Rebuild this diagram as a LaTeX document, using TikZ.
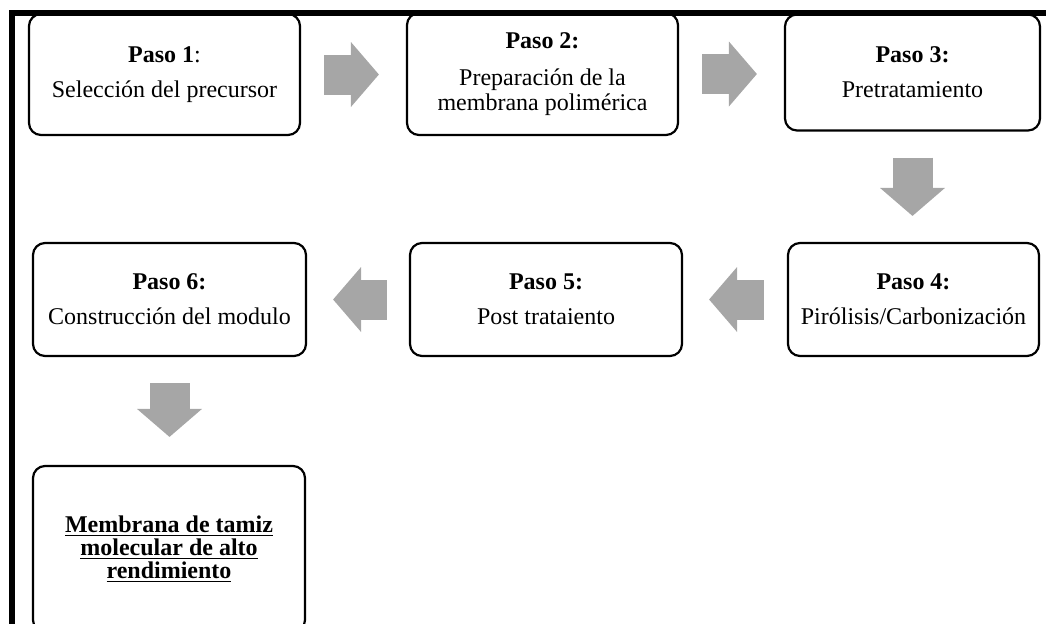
\documentclass[tikz,border=0pt]{standalone}
\usepackage{fontspec}
\setmainfont{Liberation Serif}
\usetikzlibrary{arrows.meta}
\definecolor{grisflecha}{RGB}{166,166,166}

\begin{document}
\begin{tikzpicture}[x=0.5pt,y=-0.5pt,
	paso/.style={draw, line width=1.1pt, rounded corners=6pt, align=center, inner sep=0pt, font=\fontsize{12}{12.5}\selectfont},
	flecha/.style={draw=grisflecha, line width=20pt, -{Triangle[length=14pt,width=32.5pt,line width=0pt]}}]
	\useasboundingbox (0,0) rectangle (1046,623);
	\clip (0,0) rectangle (1046,623);
	\draw[line width=3pt] (11.5,630) -- (11.5,13) -- (1050,13);
	\node[paso, minimum width=135.5pt, minimum height=60.5pt] (p1) at (164.5,74.5) {\textbf{Paso 1}:\\[5pt] Selección del precursor};
	\node[paso, minimum width=135.5pt, minimum height=61pt] (p2) at (542.5,74) {\textbf{Paso 2:}\\[6pt] Preparación de la\\ membrana polimérica};
	\node[paso, minimum width=127.5pt, minimum height=58pt] (p3) at (912.5,72.5) {\textbf{Paso 3:}\\[5pt] Pretratamiento};
	\node[paso, minimum width=125.5pt, minimum height=56.5pt] (p4) at (913.5,299.5) {\textbf{Paso 4:}\\[5pt] Pirólisis/Carbonización};
	\node[paso, minimum width=136pt, minimum height=56.5pt] (p5) at (546,299.5) {\textbf{Paso 5:}\\[5pt] Post trataiento};
	\node[paso, minimum width=136.5pt, minimum height=56.5pt] (p6) at (169.5,299.5) {\textbf{Paso 6:}\\[5pt] Construcción del modulo};
	\node[paso, minimum width=136pt, minimum height=83pt, font=\bfseries\fontsize{12}{10}\selectfont] (res) at (169,549) {\underline{Membrana de tamiz}\\ \underline{molecular de alto}\\ \underline{rendimiento}};
	\draw[flecha, shorten <=11.5pt, shorten >=13.5pt] (p1.east) -- (p1.east -| p2.west);
	\draw[flecha, shorten <=11.5pt, shorten >=13.5pt] (p2.east) -- (p2.east -| p3.west);
	\draw[flecha, shorten <=13pt, shorten >=13pt] (p3.south) -- (p3.south |- p4.north);
	\draw[flecha, shorten <=11.5pt, shorten >=13pt] (p4.west) -- (p4.west -| p5.east);
	\draw[flecha, shorten <=11pt, shorten >=13pt] (p5.west) -- (p5.west -| p6.east);
	\draw[flecha, shorten <=13pt, shorten >=14pt] (p6.south) -- (p6.south |- res.north);
\end{tikzpicture}
\end{document}
